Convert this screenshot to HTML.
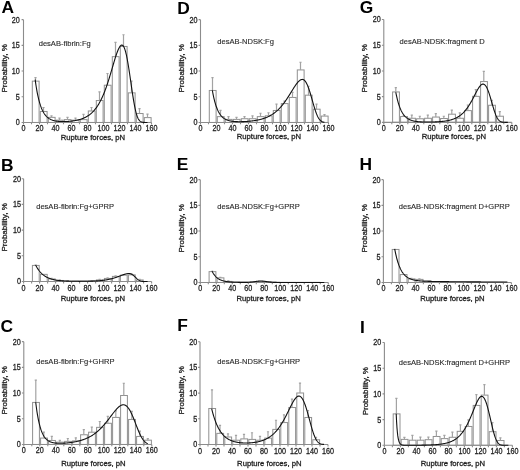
<!DOCTYPE html>
<html><head><meta charset="utf-8"><style>
html,body{margin:0;padding:0;background:#fff;}
svg{display:block;will-change:transform;}
text{font-family:"Liberation Sans",sans-serif;}
.bar{fill:#fff;stroke:#909090;stroke-width:1;}
.err{fill:none;stroke:#a3a3a3;stroke-width:1.2;}
.ax{fill:none;stroke:#8c8c8c;stroke-width:1.1;}
.cv{fill:none;stroke:#111;stroke-width:1.1;stroke-linejoin:round;}
.tl{font-size:9px;fill:#222;stroke:#222;stroke-width:0.3px;}
.tt{font-size:7.55px;fill:#2a2a2a;stroke:#2a2a2a;stroke-width:0.12px;}
.at{font-size:8px;fill:#222;stroke:#222;stroke-width:0.3px;}
.lt{font-size:17.4px;font-weight:bold;fill:#000;}
</style></head><body>
<svg width="520" height="470" viewBox="0 0 520 470">
<rect width="520" height="470" fill="#fff"/>
<rect x="32.3" y="81.14" width="6.8" height="41.31" class="bar"/>
<rect x="40.3" y="111.48" width="6.8" height="10.96" class="bar"/>
<rect x="48.3" y="117.35" width="6.8" height="5.1" class="bar"/>
<rect x="56.3" y="120.16" width="6.8" height="2.29" class="bar"/>
<rect x="64.3" y="119.64" width="6.8" height="2.81" class="bar"/>
<rect x="72.3" y="120.16" width="6.8" height="2.29" class="bar"/>
<rect x="80.3" y="119.64" width="6.8" height="2.81" class="bar"/>
<rect x="88.3" y="110.98" width="6.8" height="11.47" class="bar"/>
<rect x="96.3" y="100.52" width="6.8" height="21.93" class="bar"/>
<rect x="104.3" y="85.22" width="6.8" height="37.23" class="bar"/>
<rect x="112.3" y="56.66" width="6.8" height="65.79" class="bar"/>
<rect x="120.3" y="46.46" width="6.8" height="75.99" class="bar"/>
<rect x="128.3" y="92.87" width="6.8" height="29.58" class="bar"/>
<rect x="136.3" y="113.53" width="6.8" height="8.92" class="bar"/>
<rect x="144.3" y="117.61" width="6.8" height="4.84" class="bar"/>
<path d="M35.5 81.14V77.57M34.4 77.57h2.2" class="err"/>
<path d="M43.5 111.48V107.51M42.4 107.51h2.2" class="err"/>
<path d="M51.5 117.35V115.82M50.4 115.82h2.2" class="err"/>
<path d="M59.5 120.16V118.12M58.4 118.12h2.2" class="err"/>
<path d="M67.5 119.64V117.35M66.4 117.35h2.2" class="err"/>
<path d="M75.5 120.16V118.12M74.4 118.12h2.2" class="err"/>
<path d="M83.5 119.64V114.29M82.4 114.29h2.2" class="err"/>
<path d="M91.5 110.98V107.51M90.4 107.51h2.2" class="err"/>
<path d="M99.5 100.52V91.85M98.4 91.85h2.2" class="err"/>
<path d="M107.5 85.22V73.49M106.4 73.49h2.2" class="err"/>
<path d="M115.5 56.66V42.38M114.4 42.38h2.2" class="err"/>
<path d="M123.5 46.46V34.73M122.4 34.73h2.2" class="err"/>
<path d="M131.5 92.87V81.14M130.4 81.14h2.2" class="err"/>
<path d="M139.5 113.53V108.68M138.4 108.68h2.2" class="err"/>
<path d="M147.5 117.61V114.03M146.4 114.03h2.2" class="err"/>
<path d="M23.5 19.65V122.45H151.5" class="ax"/>
<path d="M21.6 122.45h1.9M21.6 96.75h1.9M21.6 71.05h1.9M21.6 45.35h1.9M21.6 19.65h1.9M23.5 122.45v1.9M31.5 122.45v1.9M39.5 122.45v1.9M47.5 122.45v1.9M55.5 122.45v1.9M63.5 122.45v1.9M71.5 122.45v1.9M79.5 122.45v1.9M87.5 122.45v1.9M95.5 122.45v1.9M103.5 122.45v1.9M111.5 122.45v1.9M119.5 122.45v1.9M127.5 122.45v1.9M135.5 122.45v1.9M143.5 122.45v1.9M151.5 122.45v1.9" class="ax"/>
<text transform="translate(19.8 125.35) scale(0.8 1)" class="tl" text-anchor="end">0</text>
<text transform="translate(19.8 99.65) scale(0.8 1)" class="tl" text-anchor="end">5</text>
<text transform="translate(19.8 73.95) scale(0.8 1)" class="tl" text-anchor="end">10</text>
<text transform="translate(19.8 48.25) scale(0.8 1)" class="tl" text-anchor="end">15</text>
<text transform="translate(19.8 22.55) scale(0.8 1)" class="tl" text-anchor="end">20</text>
<text transform="translate(23.5 131.45) scale(0.8 1)" class="tl" text-anchor="middle">0</text>
<text transform="translate(39.5 131.45) scale(0.8 1)" class="tl" text-anchor="middle">20</text>
<text transform="translate(55.5 131.45) scale(0.8 1)" class="tl" text-anchor="middle">40</text>
<text transform="translate(71.5 131.45) scale(0.8 1)" class="tl" text-anchor="middle">60</text>
<text transform="translate(87.5 131.45) scale(0.8 1)" class="tl" text-anchor="middle">80</text>
<text transform="translate(103.5 131.45) scale(0.8 1)" class="tl" text-anchor="middle">100</text>
<text transform="translate(119.5 131.45) scale(0.8 1)" class="tl" text-anchor="middle">120</text>
<text transform="translate(135.5 131.45) scale(0.8 1)" class="tl" text-anchor="middle">140</text>
<text transform="translate(151.5 131.45) scale(0.8 1)" class="tl" text-anchor="middle">160</text>
<path d="M35.18 79.68 L35.58 82.56 L35.98 85.25 L36.38 87.76 L36.78 90.1 L37.18 92.28 L37.58 94.32 L37.98 96.21 L38.38 97.98 L38.78 99.63 L39.18 101.16 L39.58 102.59 L39.98 103.93 L40.38 105.18 L40.78 106.34 L41.18 107.42 L41.58 108.43 L41.98 109.37 L42.38 110.24 L42.78 111.06 L43.18 111.82 L43.58 112.53 L43.98 113.19 L44.38 113.81 L44.78 114.38 L45.18 114.92 L45.58 115.42 L45.98 115.88 L46.38 116.32 L46.78 116.72 L47.18 117.09 L47.58 117.44 L47.98 117.77 L48.38 118.07 L48.78 118.35 L49.18 118.62 L49.58 118.86 L49.98 119.09 L50.38 119.3 L50.78 119.5 L51.18 119.68 L51.58 119.85 L51.98 120 L52.38 120.15 L52.78 120.28 L53.18 120.41 L53.58 120.52 L53.98 120.63 L54.38 120.73 L54.78 120.82 L55.18 120.91 L55.58 120.98 L55.98 121.05 L56.38 121.12 L56.78 121.18 L57.18 121.23 L57.58 121.28 L57.98 121.33 L58.38 121.37 L58.78 121.4 L59.18 121.43 L59.58 121.46 L59.98 121.49 L60.38 121.51 L60.78 121.53 L61.18 121.54 L61.58 121.55 L61.98 121.56 L62.38 121.57 L62.78 121.57 L63.18 121.57 L63.58 121.57 L63.98 121.57 L64.38 121.56 L64.78 121.55 L65.18 121.54 L65.58 121.53 L65.98 121.51 L66.38 121.5 L66.78 121.48 L67.18 121.46 L67.58 121.43 L67.98 121.41 L68.38 121.38 L68.78 121.35 L69.18 121.32 L69.58 121.28 L69.98 121.25 L70.38 121.21 L70.78 121.17 L71.18 121.12 L71.58 121.08 L71.98 121.03 L72.38 120.98 L72.78 120.93 L73.18 120.87 L73.58 120.81 L73.98 120.75 L74.38 120.68 L74.78 120.62 L75.18 120.55 L75.58 120.47 L75.98 120.4 L76.38 120.32 L76.78 120.23 L77.18 120.15 L77.58 120.06 L77.98 119.96 L78.38 119.86 L78.78 119.76 L79.18 119.65 L79.58 119.54 L79.98 119.42 L80.38 119.3 L80.78 119.18 L81.18 119.05 L81.58 118.91 L81.98 118.77 L82.38 118.62 L82.78 118.47 L83.18 118.31 L83.58 118.14 L83.98 117.97 L84.38 117.79 L84.78 117.6 L85.18 117.41 L85.58 117.21 L85.98 117 L86.38 116.78 L86.78 116.55 L87.18 116.32 L87.58 116.07 L87.98 115.82 L88.38 115.56 L88.78 115.28 L89.18 115 L89.58 114.7 L89.98 114.4 L90.38 114.08 L90.78 113.75 L91.18 113.41 L91.58 113.05 L91.98 112.68 L92.38 112.3 L92.78 111.9 L93.18 111.49 L93.58 111.07 L93.98 110.63 L94.38 110.17 L94.78 109.7 L95.18 109.21 L95.58 108.7 L95.98 108.18 L96.38 107.63 L96.78 107.07 L97.18 106.49 L97.58 105.89 L97.98 105.26 L98.38 104.62 L98.78 103.96 L99.18 103.27 L99.58 102.57 L99.98 101.84 L100.38 101.08 L100.78 100.31 L101.18 99.51 L101.58 98.68 L101.98 97.83 L102.38 96.96 L102.78 96.06 L103.18 95.14 L103.58 94.19 L103.98 93.21 L104.38 92.21 L104.78 91.19 L105.18 90.14 L105.58 89.06 L105.98 87.96 L106.38 86.83 L106.78 85.68 L107.18 84.51 L107.58 83.31 L107.98 82.09 L108.38 80.85 L108.78 79.59 L109.18 78.31 L109.58 77.01 L109.98 75.7 L110.38 74.37 L110.78 73.03 L111.18 71.68 L111.58 70.32 L111.98 68.95 L112.38 67.58 L112.78 66.22 L113.18 64.85 L113.58 63.49 L113.98 62.15 L114.38 60.81 L114.78 59.5 L115.18 58.21 L115.58 56.94 L115.98 55.71 L116.38 54.52 L116.78 53.37 L117.18 52.27 L117.58 51.22 L117.98 50.24 L118.38 49.32 L118.78 48.47 L119.18 47.71 L119.58 47.02 L119.98 46.44 L120.38 45.94 L120.78 45.56 L121.18 45.28 L121.58 45.12 L121.98 45.09 L122.38 45.19 L122.78 45.44 L123.18 45.85 L123.58 46.41 L123.98 47.14 L124.38 48.04 L124.78 49.1 L125.18 50.32 L125.58 51.72 L125.98 53.27 L126.38 54.99 L126.78 56.86 L127.18 58.88 L127.58 61.03 L127.98 63.32 L128.38 65.72 L128.78 68.22 L129.18 70.82 L129.58 73.49 L129.98 76.21 L130.38 78.98 L130.78 81.77 L131.18 84.56 L131.58 87.34 L131.98 90.08 L132.38 92.77 L132.78 95.39 L133.18 97.93 L133.58 100.37 L133.98 102.69 L134.38 104.89 L134.78 106.95 L135.18 108.87 L135.58 110.65 L135.98 112.27 L136.38 113.75 L136.78 115.07 L137.18 116.25 L137.58 117.3 L137.98 118.2 L138.38 118.99 L138.78 119.66 L139.18 120.23 L139.58 120.7 L139.98 121.09 L140.38 121.4 L140.78 121.66 L141.18 121.86 L141.58 122.01 L141.98 122.13 L142.38 122.22 L142.78 122.29 L143.18 122.34 L143.58 122.38 L143.98 122.4 L144.38 122.42 L144.78 122.43 L145.18 122.44 L145.58 122.44 L145.98 122.45 L146.38 122.45 L146.78 122.45 L147.18 122.45 L147.5 122.45" class="cv"/>
<text x="38.7" y="46.3" class="tt">desAB-fibrin:Fg</text>
<text transform="translate(60.8 140.2) scale(0.96 1)" class="at">Rupture forces, pN</text>
<text transform="translate(7.1 68.35) rotate(-90) scale(1.0 1)" text-anchor="middle" class="at">Probability, %</text>
<text x="1.6" y="12.6" class="lt">A</text>
<rect x="209.3" y="90.47" width="6.8" height="31.98" class="bar"/>
<rect x="217.3" y="116.64" width="6.8" height="5.81" class="bar"/>
<rect x="225.3" y="119.39" width="6.8" height="3.06" class="bar"/>
<rect x="233.3" y="119.39" width="6.8" height="3.06" class="bar"/>
<rect x="241.3" y="118.73" width="6.8" height="3.72" class="bar"/>
<rect x="249.3" y="118.73" width="6.8" height="3.72" class="bar"/>
<rect x="257.3" y="116.64" width="6.8" height="5.81" class="bar"/>
<rect x="265.3" y="115.82" width="6.8" height="6.63" class="bar"/>
<rect x="273.3" y="110.47" width="6.8" height="11.98" class="bar"/>
<rect x="281.3" y="103.58" width="6.8" height="18.87" class="bar"/>
<rect x="289.3" y="97.46" width="6.8" height="24.99" class="bar"/>
<rect x="297.3" y="69.92" width="6.8" height="52.53" class="bar"/>
<rect x="305.3" y="95.17" width="6.8" height="27.28" class="bar"/>
<rect x="313.3" y="109.19" width="6.8" height="13.26" class="bar"/>
<rect x="321.3" y="116.08" width="6.8" height="6.38" class="bar"/>
<path d="M212.5 90.47V77.57M211.4 77.57h2.2" class="err"/>
<path d="M220.5 116.64V110.47M219.4 110.47h2.2" class="err"/>
<path d="M228.5 119.39V116.64M227.4 116.64h2.2" class="err"/>
<path d="M236.5 119.39V117.35M235.4 117.35h2.2" class="err"/>
<path d="M244.5 118.73V116.64M243.4 116.64h2.2" class="err"/>
<path d="M252.5 118.73V115.82M251.4 115.82h2.2" class="err"/>
<path d="M260.5 116.64V113.27M259.4 113.27h2.2" class="err"/>
<path d="M268.5 115.82V112.76M267.4 112.76h2.2" class="err"/>
<path d="M276.5 110.47V104.09M275.4 104.09h2.2" class="err"/>
<path d="M284.5 103.58V101.03M283.4 101.03h2.2" class="err"/>
<path d="M292.5 97.46V92.36M291.4 92.36h2.2" class="err"/>
<path d="M300.5 69.92V62.27M299.4 62.27h2.2" class="err"/>
<path d="M308.5 95.17V86.24M307.4 86.24h2.2" class="err"/>
<path d="M316.5 109.19V104.09M315.4 104.09h2.2" class="err"/>
<path d="M324.5 116.08V114.55M323.4 114.55h2.2" class="err"/>
<path d="M200.5 19.65V122.45H328.5" class="ax"/>
<path d="M198.6 122.45h1.9M198.6 96.75h1.9M198.6 71.05h1.9M198.6 45.35h1.9M198.6 19.65h1.9M200.5 122.45v1.9M208.5 122.45v1.9M216.5 122.45v1.9M224.5 122.45v1.9M232.5 122.45v1.9M240.5 122.45v1.9M248.5 122.45v1.9M256.5 122.45v1.9M264.5 122.45v1.9M272.5 122.45v1.9M280.5 122.45v1.9M288.5 122.45v1.9M296.5 122.45v1.9M304.5 122.45v1.9M312.5 122.45v1.9M320.5 122.45v1.9M328.5 122.45v1.9" class="ax"/>
<text transform="translate(197.6 125.35) scale(0.8 1)" class="tl" text-anchor="end">0</text>
<text transform="translate(197.6 99.65) scale(0.8 1)" class="tl" text-anchor="end">5</text>
<text transform="translate(197.6 73.95) scale(0.8 1)" class="tl" text-anchor="end">10</text>
<text transform="translate(197.6 48.25) scale(0.8 1)" class="tl" text-anchor="end">15</text>
<text transform="translate(197.6 22.55) scale(0.8 1)" class="tl" text-anchor="end">20</text>
<text transform="translate(200.5 131.45) scale(0.8 1)" class="tl" text-anchor="middle">0</text>
<text transform="translate(216.5 131.45) scale(0.8 1)" class="tl" text-anchor="middle">20</text>
<text transform="translate(232.5 131.45) scale(0.8 1)" class="tl" text-anchor="middle">40</text>
<text transform="translate(248.5 131.45) scale(0.8 1)" class="tl" text-anchor="middle">60</text>
<text transform="translate(264.5 131.45) scale(0.8 1)" class="tl" text-anchor="middle">80</text>
<text transform="translate(280.5 131.45) scale(0.8 1)" class="tl" text-anchor="middle">100</text>
<text transform="translate(296.5 131.45) scale(0.8 1)" class="tl" text-anchor="middle">120</text>
<text transform="translate(312.5 131.45) scale(0.8 1)" class="tl" text-anchor="middle">140</text>
<text transform="translate(328.5 131.45) scale(0.8 1)" class="tl" text-anchor="middle">160</text>
<path d="M212.34 90.27 L212.74 92.5 L213.14 94.57 L213.54 96.5 L213.94 98.3 L214.34 99.97 L214.74 101.52 L215.14 102.97 L215.54 104.32 L215.94 105.57 L216.34 106.73 L216.74 107.82 L217.14 108.82 L217.54 109.76 L217.94 110.63 L218.34 111.45 L218.74 112.2 L219.14 112.9 L219.54 113.56 L219.94 114.17 L220.34 114.73 L220.74 115.26 L221.14 115.74 L221.54 116.2 L221.94 116.62 L222.34 117.01 L222.74 117.38 L223.14 117.72 L223.54 118.03 L223.94 118.33 L224.34 118.6 L224.74 118.85 L225.14 119.09 L225.54 119.3 L225.94 119.51 L226.34 119.69 L226.74 119.87 L227.14 120.03 L227.54 120.18 L227.94 120.32 L228.34 120.45 L228.74 120.57 L229.14 120.67 L229.54 120.78 L229.94 120.87 L230.34 120.96 L230.74 121.04 L231.14 121.11 L231.54 121.18 L231.94 121.24 L232.34 121.29 L232.74 121.34 L233.14 121.39 L233.54 121.43 L233.94 121.47 L234.34 121.51 L234.74 121.54 L235.14 121.57 L235.54 121.59 L235.94 121.61 L236.34 121.63 L236.74 121.65 L237.14 121.66 L237.54 121.67 L237.94 121.68 L238.34 121.69 L238.74 121.69 L239.14 121.7 L239.54 121.7 L239.94 121.69 L240.34 121.69 L240.74 121.69 L241.14 121.68 L241.54 121.67 L241.94 121.66 L242.34 121.65 L242.74 121.64 L243.14 121.62 L243.54 121.61 L243.94 121.59 L244.34 121.57 L244.74 121.55 L245.14 121.53 L245.54 121.51 L245.94 121.49 L246.34 121.46 L246.74 121.43 L247.14 121.4 L247.54 121.37 L247.94 121.34 L248.34 121.31 L248.74 121.28 L249.14 121.24 L249.54 121.2 L249.94 121.16 L250.34 121.12 L250.74 121.08 L251.14 121.03 L251.54 120.99 L251.94 120.94 L252.34 120.89 L252.74 120.84 L253.14 120.79 L253.54 120.73 L253.94 120.67 L254.34 120.61 L254.74 120.55 L255.14 120.49 L255.54 120.42 L255.94 120.35 L256.34 120.28 L256.74 120.21 L257.14 120.13 L257.54 120.06 L257.94 119.97 L258.34 119.89 L258.74 119.8 L259.14 119.71 L259.54 119.62 L259.94 119.52 L260.34 119.43 L260.74 119.32 L261.14 119.22 L261.54 119.11 L261.94 118.99 L262.34 118.88 L262.74 118.76 L263.14 118.63 L263.54 118.5 L263.94 118.37 L264.34 118.23 L264.74 118.09 L265.14 117.94 L265.54 117.79 L265.94 117.63 L266.34 117.47 L266.74 117.31 L267.14 117.13 L267.54 116.96 L267.94 116.77 L268.34 116.59 L268.74 116.39 L269.14 116.19 L269.54 115.98 L269.94 115.77 L270.34 115.55 L270.74 115.32 L271.14 115.09 L271.54 114.85 L271.94 114.6 L272.34 114.35 L272.74 114.09 L273.14 113.82 L273.54 113.54 L273.94 113.25 L274.34 112.96 L274.74 112.65 L275.14 112.34 L275.54 112.02 L275.94 111.69 L276.34 111.36 L276.74 111.01 L277.14 110.65 L277.54 110.29 L277.94 109.91 L278.34 109.53 L278.74 109.13 L279.14 108.73 L279.54 108.31 L279.94 107.89 L280.34 107.45 L280.74 107 L281.14 106.55 L281.54 106.08 L281.94 105.61 L282.34 105.12 L282.74 104.62 L283.14 104.11 L283.54 103.59 L283.94 103.07 L284.34 102.53 L284.74 101.98 L285.14 101.42 L285.54 100.86 L285.94 100.28 L286.34 99.7 L286.74 99.1 L287.14 98.5 L287.54 97.89 L287.94 97.28 L288.34 96.65 L288.74 96.02 L289.14 95.39 L289.54 94.75 L289.94 94.11 L290.34 93.46 L290.74 92.81 L291.14 92.16 L291.54 91.51 L291.94 90.86 L292.34 90.21 L292.74 89.57 L293.14 88.93 L293.54 88.29 L293.94 87.67 L294.34 87.05 L294.74 86.44 L295.14 85.84 L295.54 85.26 L295.94 84.69 L296.34 84.14 L296.74 83.61 L297.14 83.11 L297.54 82.62 L297.94 82.16 L298.34 81.73 L298.74 81.33 L299.14 80.96 L299.54 80.62 L299.94 80.32 L300.34 80.06 L300.74 79.84 L301.14 79.66 L301.54 79.53 L301.94 79.44 L302.34 79.41 L302.74 79.43 L303.14 79.51 L303.54 79.67 L303.94 79.9 L304.34 80.21 L304.74 80.59 L305.14 81.05 L305.54 81.58 L305.94 82.19 L306.34 82.88 L306.74 83.65 L307.14 84.49 L307.54 85.4 L307.94 86.38 L308.34 87.43 L308.74 88.55 L309.14 89.72 L309.54 90.95 L309.94 92.22 L310.34 93.53 L310.74 94.88 L311.14 96.26 L311.54 97.66 L311.94 99.08 L312.34 100.5 L312.74 101.92 L313.14 103.32 L313.54 104.71 L313.94 106.08 L314.34 107.41 L314.74 108.7 L315.14 109.94 L315.54 111.14 L315.94 112.27 L316.34 113.35 L316.74 114.36 L317.14 115.3 L317.54 116.18 L317.94 116.98 L318.34 117.72 L318.74 118.39 L319.14 118.98 L319.54 119.52 L319.94 119.99 L320.34 120.41 L320.74 120.76 L321.14 121.07 L321.54 121.34 L321.94 121.56 L322.34 121.74 L322.74 121.9 L323.14 122.02 L323.54 122.12 L323.94 122.2 L324.34 122.26 L324.5 122.29" class="cv"/>
<text x="217.3" y="44.4" class="tt">desAB-NDSK:Fg</text>
<text transform="translate(236.7 139) scale(0.96 1)" class="at">Rupture forces, pN</text>
<text transform="translate(184.1 68.35) rotate(-90) scale(1.0 1)" text-anchor="middle" class="at">Probability, %</text>
<text x="177.3" y="13.6" class="lt">D</text>
<rect x="392.6" y="91.95" width="6.8" height="30.4" class="bar"/>
<rect x="400.6" y="116.54" width="6.8" height="5.81" class="bar"/>
<rect x="408.6" y="118.27" width="6.8" height="4.08" class="bar"/>
<rect x="416.6" y="118.78" width="6.8" height="3.57" class="bar"/>
<rect x="424.6" y="118.27" width="6.8" height="4.08" class="bar"/>
<rect x="432.6" y="117.05" width="6.8" height="5.3" class="bar"/>
<rect x="440.6" y="118.52" width="6.8" height="3.82" class="bar"/>
<rect x="448.6" y="114.19" width="6.8" height="8.16" class="bar"/>
<rect x="456.6" y="118.27" width="6.8" height="4.08" class="bar"/>
<rect x="464.6" y="110.62" width="6.8" height="11.73" class="bar"/>
<rect x="472.6" y="96.34" width="6.8" height="26.01" class="bar"/>
<rect x="480.6" y="81.55" width="6.8" height="40.8" class="bar"/>
<rect x="488.6" y="105.26" width="6.8" height="17.09" class="bar"/>
<rect x="496.6" y="116.23" width="6.8" height="6.12" class="bar"/>
<path d="M395.8 91.95V87.67M394.7 87.67h2.2" class="err"/>
<path d="M403.8 116.54V115.72M402.7 115.72h2.2" class="err"/>
<path d="M411.8 118.27V115.21M410.7 115.21h2.2" class="err"/>
<path d="M419.8 118.78V116.23M418.7 116.23h2.2" class="err"/>
<path d="M427.8 118.27V115.21M426.7 115.21h2.2" class="err"/>
<path d="M435.8 117.05V113.68M434.7 113.68h2.2" class="err"/>
<path d="M443.8 118.52V116.23M442.7 116.23h2.2" class="err"/>
<path d="M451.8 114.19V110.11M450.7 110.11h2.2" class="err"/>
<path d="M459.8 118.27V112.91M458.7 112.91h2.2" class="err"/>
<path d="M467.8 110.62V105.01M466.7 105.01h2.2" class="err"/>
<path d="M475.8 96.34V89.71M474.7 89.71h2.2" class="err"/>
<path d="M483.8 81.55V71.35M482.7 71.35h2.2" class="err"/>
<path d="M491.8 105.26V100.42M490.7 100.42h2.2" class="err"/>
<path d="M499.8 116.23V111.64M498.7 111.64h2.2" class="err"/>
<path d="M383.8 19.55V122.35H511.8" class="ax"/>
<path d="M381.9 122.35h1.9M381.9 96.65h1.9M381.9 70.95h1.9M381.9 45.25h1.9M381.9 19.55h1.9M383.8 122.35v1.9M391.8 122.35v1.9M399.8 122.35v1.9M407.8 122.35v1.9M415.8 122.35v1.9M423.8 122.35v1.9M431.8 122.35v1.9M439.8 122.35v1.9M447.8 122.35v1.9M455.8 122.35v1.9M463.8 122.35v1.9M471.8 122.35v1.9M479.8 122.35v1.9M487.8 122.35v1.9M495.8 122.35v1.9M503.8 122.35v1.9M511.8 122.35v1.9" class="ax"/>
<text transform="translate(380.7 125.25) scale(0.8 1)" class="tl" text-anchor="end">0</text>
<text transform="translate(380.7 99.55) scale(0.8 1)" class="tl" text-anchor="end">5</text>
<text transform="translate(380.7 73.85) scale(0.8 1)" class="tl" text-anchor="end">10</text>
<text transform="translate(380.7 48.15) scale(0.8 1)" class="tl" text-anchor="end">15</text>
<text transform="translate(380.7 22.45) scale(0.8 1)" class="tl" text-anchor="end">20</text>
<text transform="translate(383.8 131.35) scale(0.8 1)" class="tl" text-anchor="middle">0</text>
<text transform="translate(399.8 131.35) scale(0.8 1)" class="tl" text-anchor="middle">20</text>
<text transform="translate(415.8 131.35) scale(0.8 1)" class="tl" text-anchor="middle">40</text>
<text transform="translate(431.8 131.35) scale(0.8 1)" class="tl" text-anchor="middle">60</text>
<text transform="translate(447.8 131.35) scale(0.8 1)" class="tl" text-anchor="middle">80</text>
<text transform="translate(463.8 131.35) scale(0.8 1)" class="tl" text-anchor="middle">100</text>
<text transform="translate(479.8 131.35) scale(0.8 1)" class="tl" text-anchor="middle">120</text>
<text transform="translate(495.8 131.35) scale(0.8 1)" class="tl" text-anchor="middle">140</text>
<text transform="translate(511.8 131.35) scale(0.8 1)" class="tl" text-anchor="middle">160</text>
<path d="M395.8 92.26 L396.2 94.28 L396.6 96.17 L397 97.93 L397.4 99.57 L397.8 101.1 L398.2 102.53 L398.6 103.86 L399 105.11 L399.4 106.27 L399.8 107.35 L400.2 108.36 L400.6 109.3 L401 110.17 L401.4 110.99 L401.8 111.75 L402.2 112.47 L402.6 113.13 L403 113.75 L403.4 114.33 L403.8 114.87 L404.2 115.37 L404.6 115.84 L405 116.27 L405.4 116.68 L405.8 117.06 L406.2 117.41 L406.6 117.74 L407 118.05 L407.4 118.34 L407.8 118.61 L408.2 118.86 L408.6 119.09 L409 119.31 L409.4 119.51 L409.8 119.7 L410.2 119.87 L410.6 120.04 L411 120.19 L411.4 120.33 L411.8 120.47 L412.2 120.59 L412.6 120.7 L413 120.81 L413.4 120.91 L413.8 121 L414.2 121.09 L414.6 121.17 L415 121.25 L415.4 121.32 L415.8 121.38 L416.2 121.44 L416.6 121.5 L417 121.55 L417.4 121.6 L417.8 121.64 L418.2 121.68 L418.6 121.72 L419 121.76 L419.4 121.79 L419.8 121.82 L420.2 121.85 L420.6 121.87 L421 121.9 L421.4 121.92 L421.8 121.94 L422.2 121.96 L422.6 121.97 L423 121.99 L423.4 122 L423.8 122.01 L424.2 122.02 L424.6 122.03 L425 122.04 L425.4 122.04 L425.8 122.05 L426.2 122.05 L426.6 122.06 L427 122.06 L427.4 122.06 L427.8 122.06 L428.2 122.06 L428.6 122.06 L429 122.06 L429.4 122.05 L429.8 122.05 L430.2 122.04 L430.6 122.04 L431 122.03 L431.4 122.02 L431.8 122.02 L432.2 122.01 L432.6 122 L433 121.99 L433.4 121.97 L433.8 121.96 L434.2 121.95 L434.6 121.93 L435 121.92 L435.4 121.9 L435.8 121.88 L436.2 121.86 L436.6 121.84 L437 121.82 L437.4 121.8 L437.8 121.78 L438.2 121.75 L438.6 121.73 L439 121.7 L439.4 121.67 L439.8 121.64 L440.2 121.61 L440.6 121.58 L441 121.54 L441.4 121.5 L441.8 121.46 L442.2 121.42 L442.6 121.38 L443 121.34 L443.4 121.29 L443.8 121.24 L444.2 121.19 L444.6 121.14 L445 121.08 L445.4 121.02 L445.8 120.96 L446.2 120.9 L446.6 120.83 L447 120.76 L447.4 120.68 L447.8 120.61 L448.2 120.53 L448.6 120.44 L449 120.35 L449.4 120.26 L449.8 120.16 L450.2 120.06 L450.6 119.96 L451 119.85 L451.4 119.73 L451.8 119.61 L452.2 119.49 L452.6 119.35 L453 119.22 L453.4 119.07 L453.8 118.92 L454.2 118.77 L454.6 118.6 L455 118.43 L455.4 118.25 L455.8 118.07 L456.2 117.87 L456.6 117.67 L457 117.46 L457.4 117.24 L457.8 117.01 L458.2 116.77 L458.6 116.52 L459 116.27 L459.4 116 L459.8 115.71 L460.2 115.42 L460.6 115.12 L461 114.8 L461.4 114.47 L461.8 114.13 L462.2 113.78 L462.6 113.41 L463 113.03 L463.4 112.63 L463.8 112.22 L464.2 111.79 L464.6 111.35 L465 110.9 L465.4 110.42 L465.8 109.93 L466.2 109.43 L466.6 108.91 L467 108.37 L467.4 107.82 L467.8 107.25 L468.2 106.66 L468.6 106.05 L469 105.43 L469.4 104.8 L469.8 104.14 L470.2 103.48 L470.6 102.79 L471 102.1 L471.4 101.39 L471.8 100.66 L472.2 99.93 L472.6 99.18 L473 98.42 L473.4 97.66 L473.8 96.89 L474.2 96.12 L474.6 95.34 L475 94.56 L475.4 93.79 L475.8 93.02 L476.2 92.25 L476.6 91.5 L477 90.76 L477.4 90.04 L477.8 89.34 L478.2 88.66 L478.6 88.01 L479 87.4 L479.4 86.82 L479.8 86.28 L480.2 85.79 L480.6 85.35 L481 84.97 L481.4 84.65 L481.8 84.39 L482.2 84.2 L482.6 84.08 L483 84.05 L483.4 84.09 L483.8 84.21 L484.2 84.4 L484.6 84.68 L485 85.04 L485.4 85.48 L485.8 86.01 L486.2 86.62 L486.6 87.32 L487 88.1 L487.4 88.96 L487.8 89.9 L488.2 90.91 L488.6 91.99 L489 93.14 L489.4 94.35 L489.8 95.61 L490.2 96.91 L490.6 98.26 L491 99.63 L491.4 101.02 L491.8 102.41 L492.2 103.81 L492.6 105.21 L493 106.58 L493.4 107.92 L493.8 109.23 L494.2 110.49 L494.6 111.7 L495 112.85 L495.4 113.93 L495.8 114.95 L496.2 115.89 L496.6 116.76 L497 117.55 L497.4 118.27 L497.8 118.91 L498.2 119.47 L498.6 119.97 L499 120.4 L499.4 120.77 L499.8 121.09 L500.2 121.35 L500.6 121.57 L501 121.75 L501.4 121.89 L501.8 122.01 L502.2 122.1 L502.6 122.17 L503 122.22 L503.4 122.26 L503.8 122.29 L504.2 122.31 L504.6 122.32 L505 122.33 L505.4 122.34 L505.8 122.34 L506.2 122.35 L506.6 122.35 L507 122.35 L507.4 122.35 L507.8 122.35" class="cv"/>
<text x="399.6" y="43.8" class="tt">desAB-NDSK:fragment D</text>
<text transform="translate(421.7 139.2) scale(0.96 1)" class="at">Rupture forces, pN</text>
<text transform="translate(367.4 68.25) rotate(-90) scale(1.0 1)" text-anchor="middle" class="at">Probability, %</text>
<text x="359.8" y="13.1" class="lt">G</text>
<rect x="32.4" y="265.44" width="6.8" height="16.06" class="bar"/>
<rect x="40.4" y="274.36" width="6.8" height="7.14" class="bar"/>
<rect x="48.4" y="278.95" width="6.8" height="2.55" class="bar"/>
<rect x="56.4" y="280.48" width="6.8" height="1.02" class="bar"/>
<rect x="64.4" y="280.99" width="6.8" height="0.51" class="bar"/>
<rect x="72.4" y="280.99" width="6.8" height="0.51" class="bar"/>
<rect x="80.4" y="280.99" width="6.8" height="0.51" class="bar"/>
<rect x="88.4" y="280.74" width="6.8" height="0.76" class="bar"/>
<rect x="96.4" y="279.97" width="6.8" height="1.53" class="bar"/>
<rect x="104.4" y="278.44" width="6.8" height="3.06" class="bar"/>
<rect x="112.4" y="276.4" width="6.8" height="5.1" class="bar"/>
<rect x="120.4" y="275.12" width="6.8" height="6.38" class="bar"/>
<rect x="128.4" y="274.87" width="6.8" height="6.63" class="bar"/>
<rect x="136.4" y="279.97" width="6.8" height="1.53" class="bar"/>
<path d="M35.6 265.44V265.18M34.5 265.18h2.2" class="err"/>
<path d="M51.6 278.95V278.44M50.5 278.44h2.2" class="err"/>
<path d="M59.6 280.48V279.97M58.5 279.97h2.2" class="err"/>
<path d="M67.6 280.99V280.48M66.5 280.48h2.2" class="err"/>
<path d="M99.6 279.97V279.46M98.5 279.46h2.2" class="err"/>
<path d="M107.6 278.44V277.93M106.5 277.93h2.2" class="err"/>
<path d="M115.6 276.4V275.89M114.5 275.89h2.2" class="err"/>
<path d="M123.6 275.12V274.62M122.5 274.62h2.2" class="err"/>
<path d="M131.6 274.87V273.85M130.5 273.85h2.2" class="err"/>
<path d="M139.6 279.97V279.46M138.5 279.46h2.2" class="err"/>
<path d="M23.6 178.7V281.5H151.6" class="ax"/>
<path d="M21.7 281.5h1.9M21.7 255.8h1.9M21.7 230.1h1.9M21.7 204.4h1.9M21.7 178.7h1.9M23.6 281.5v1.9M31.6 281.5v1.9M39.6 281.5v1.9M47.6 281.5v1.9M55.6 281.5v1.9M63.6 281.5v1.9M71.6 281.5v1.9M79.6 281.5v1.9M87.6 281.5v1.9M95.6 281.5v1.9M103.6 281.5v1.9M111.6 281.5v1.9M119.6 281.5v1.9M127.6 281.5v1.9M135.6 281.5v1.9M143.6 281.5v1.9M151.6 281.5v1.9" class="ax"/>
<text transform="translate(20.95 284.4) scale(0.8 1)" class="tl" text-anchor="end">0</text>
<text transform="translate(20.95 258.7) scale(0.8 1)" class="tl" text-anchor="end">5</text>
<text transform="translate(20.95 233) scale(0.8 1)" class="tl" text-anchor="end">10</text>
<text transform="translate(20.95 207.3) scale(0.8 1)" class="tl" text-anchor="end">15</text>
<text transform="translate(20.95 181.6) scale(0.8 1)" class="tl" text-anchor="end">20</text>
<text transform="translate(23.6 290.5) scale(0.8 1)" class="tl" text-anchor="middle">0</text>
<text transform="translate(39.6 290.5) scale(0.8 1)" class="tl" text-anchor="middle">20</text>
<text transform="translate(55.6 290.5) scale(0.8 1)" class="tl" text-anchor="middle">40</text>
<text transform="translate(71.6 290.5) scale(0.8 1)" class="tl" text-anchor="middle">60</text>
<text transform="translate(87.6 290.5) scale(0.8 1)" class="tl" text-anchor="middle">80</text>
<text transform="translate(103.6 290.5) scale(0.8 1)" class="tl" text-anchor="middle">100</text>
<text transform="translate(119.6 290.5) scale(0.8 1)" class="tl" text-anchor="middle">120</text>
<text transform="translate(135.6 290.5) scale(0.8 1)" class="tl" text-anchor="middle">140</text>
<text transform="translate(151.6 290.5) scale(0.8 1)" class="tl" text-anchor="middle">160</text>
<path d="M35.6 264.92 L36 265.71 L36.4 266.45 L36.8 267.16 L37.2 267.84 L37.6 268.48 L38 269.09 L38.4 269.68 L38.8 270.24 L39.2 270.77 L39.6 271.27 L40 271.76 L40.4 272.22 L40.8 272.65 L41.2 273.07 L41.6 273.47 L42 273.85 L42.4 274.21 L42.8 274.55 L43.2 274.88 L43.6 275.19 L44 275.49 L44.4 275.77 L44.8 276.04 L45.2 276.3 L45.6 276.54 L46 276.78 L46.4 277 L46.8 277.21 L47.2 277.41 L47.6 277.61 L48 277.79 L48.4 277.96 L48.8 278.13 L49.2 278.29 L49.6 278.44 L50 278.58 L50.4 278.72 L50.8 278.85 L51.2 278.98 L51.6 279.1 L52 279.21 L52.4 279.32 L52.8 279.42 L53.2 279.52 L53.6 279.61 L54 279.7 L54.4 279.78 L54.8 279.86 L55.2 279.94 L55.6 280.01 L56 280.08 L56.4 280.15 L56.8 280.21 L57.2 280.27 L57.6 280.33 L58 280.38 L58.4 280.44 L58.8 280.48 L59.2 280.53 L59.6 280.58 L60 280.62 L60.4 280.66 L60.8 280.7 L61.2 280.73 L61.6 280.77 L62 280.8 L62.4 280.83 L62.8 280.86 L63.2 280.89 L63.6 280.92 L64 280.95 L64.4 280.97 L64.8 280.99 L65.2 281.02 L65.6 281.04 L66 281.06 L66.4 281.08 L66.8 281.09 L67.2 281.11 L67.6 281.13 L68 281.14 L68.4 281.16 L68.8 281.17 L69.2 281.18 L69.6 281.2 L70 281.21 L70.4 281.22 L70.8 281.23 L71.2 281.24 L71.6 281.25 L72 281.26 L72.4 281.26 L72.8 281.27 L73.2 281.28 L73.6 281.28 L74 281.29 L74.4 281.29 L74.8 281.3 L75.2 281.3 L75.6 281.31 L76 281.31 L76.4 281.31 L76.8 281.32 L77.2 281.32 L77.6 281.32 L78 281.32 L78.4 281.32 L78.8 281.33 L79.2 281.33 L79.6 281.33 L80 281.33 L80.4 281.32 L80.8 281.32 L81.2 281.32 L81.6 281.32 L82 281.32 L82.4 281.32 L82.8 281.31 L83.2 281.31 L83.6 281.31 L84 281.3 L84.4 281.3 L84.8 281.29 L85.2 281.29 L85.6 281.28 L86 281.28 L86.4 281.27 L86.8 281.26 L87.2 281.25 L87.6 281.25 L88 281.24 L88.4 281.23 L88.8 281.22 L89.2 281.21 L89.6 281.2 L90 281.19 L90.4 281.18 L90.8 281.16 L91.2 281.15 L91.6 281.14 L92 281.12 L92.4 281.11 L92.8 281.09 L93.2 281.07 L93.6 281.06 L94 281.04 L94.4 281.02 L94.8 281 L95.2 280.98 L95.6 280.96 L96 280.93 L96.4 280.91 L96.8 280.89 L97.2 280.86 L97.6 280.83 L98 280.8 L98.4 280.77 L98.8 280.74 L99.2 280.71 L99.6 280.68 L100 280.64 L100.4 280.61 L100.8 280.57 L101.2 280.53 L101.6 280.49 L102 280.45 L102.4 280.4 L102.8 280.35 L103.2 280.31 L103.6 280.26 L104 280.2 L104.4 280.15 L104.8 280.09 L105.2 280.04 L105.6 279.97 L106 279.91 L106.4 279.85 L106.8 279.78 L107.2 279.71 L107.6 279.63 L108 279.56 L108.4 279.48 L108.8 279.4 L109.2 279.32 L109.6 279.23 L110 279.14 L110.4 279.05 L110.8 278.95 L111.2 278.85 L111.6 278.75 L112 278.65 L112.4 278.54 L112.8 278.43 L113.2 278.31 L113.6 278.2 L114 278.07 L114.4 277.95 L114.8 277.82 L115.2 277.7 L115.6 277.56 L116 277.43 L116.4 277.29 L116.8 277.15 L117.2 277.01 L117.6 276.86 L118 276.71 L118.4 276.56 L118.8 276.41 L119.2 276.26 L119.6 276.11 L120 275.96 L120.4 275.8 L120.8 275.65 L121.2 275.5 L121.6 275.34 L122 275.19 L122.4 275.04 L122.8 274.9 L123.2 274.76 L123.6 274.62 L124 274.49 L124.4 274.36 L124.8 274.24 L125.2 274.12 L125.6 274.02 L126 273.92 L126.4 273.83 L126.8 273.75 L127.2 273.68 L127.6 273.63 L128 273.59 L128.4 273.56 L128.8 273.55 L129.2 273.55 L129.6 273.58 L130 273.64 L130.4 273.73 L130.8 273.85 L131.2 274 L131.6 274.19 L132 274.4 L132.4 274.65 L132.8 274.92 L133.2 275.22 L133.6 275.55 L134 275.89 L134.4 276.26 L134.8 276.63 L135.2 277.02 L135.6 277.41 L136 277.8 L136.4 278.18 L136.8 278.56 L137.2 278.92 L137.6 279.26 L138 279.58 L138.4 279.87 L138.8 280.14 L139.2 280.38 L139.6 280.59 L140 280.78 L140.4 280.93 L140.8 281.06 L141.2 281.17 L141.6 281.26 L142 281.32 L142.4 281.37 L142.8 281.41 L143.2 281.44 L143.6 281.46 L144 281.48 L144.4 281.48 L144.8 281.49 L145.2 281.49 L145.6 281.5 L146 281.5 L146.4 281.5 L146.8 281.5 L147.2 281.5 L147.6 281.5" class="cv"/>
<text x="36.2" y="208.5" class="tt">desAB-fibrin:Fg+GPRP</text>
<text transform="translate(60.8 300.6) scale(0.96 1)" class="at">Rupture forces, pN</text>
<text transform="translate(7.2 227.4) rotate(-90) scale(1.0 1)" text-anchor="middle" class="at">Probability, %</text>
<text x="0.9" y="170.8" class="lt">B</text>
<rect x="209.1" y="271.64" width="6.8" height="10.81" class="bar"/>
<rect x="217.1" y="277.86" width="6.8" height="4.59" class="bar"/>
<rect x="225.1" y="281.43" width="6.8" height="1.02" class="bar"/>
<rect x="233.1" y="281.94" width="6.8" height="0.51" class="bar"/>
<rect x="241.1" y="282.19" width="6.8" height="0.26" class="bar"/>
<rect x="249.1" y="281.94" width="6.8" height="0.51" class="bar"/>
<rect x="257.1" y="281.43" width="6.8" height="1.02" class="bar"/>
<rect x="265.1" y="281.69" width="6.8" height="0.76" class="bar"/>
<rect x="273.1" y="282.19" width="6.8" height="0.26" class="bar"/>
<rect x="281.1" y="282.35" width="6.8" height="0.1" class="bar"/>
<rect x="289.1" y="282.35" width="6.8" height="0.1" class="bar"/>
<rect x="297.1" y="282.35" width="6.8" height="0.1" class="bar"/>
<rect x="305.1" y="282.35" width="6.8" height="0.1" class="bar"/>
<rect x="313.1" y="282.35" width="6.8" height="0.1" class="bar"/>
<path d="M212.3 271.64V271.23M211.2 271.23h2.2" class="err"/>
<path d="M220.3 277.86V277.35M219.2 277.35h2.2" class="err"/>
<path d="M228.3 281.43V280.92M227.2 280.92h2.2" class="err"/>
<path d="M200.3 179.65V282.45H328.3" class="ax"/>
<path d="M198.4 282.45h1.9M198.4 256.75h1.9M198.4 231.05h1.9M198.4 205.35h1.9M198.4 179.65h1.9M200.3 282.45v1.9M208.3 282.45v1.9M216.3 282.45v1.9M224.3 282.45v1.9M232.3 282.45v1.9M240.3 282.45v1.9M248.3 282.45v1.9M256.3 282.45v1.9M264.3 282.45v1.9M272.3 282.45v1.9M280.3 282.45v1.9M288.3 282.45v1.9M296.3 282.45v1.9M304.3 282.45v1.9M312.3 282.45v1.9M320.3 282.45v1.9M328.3 282.45v1.9" class="ax"/>
<text transform="translate(197.5 285.35) scale(0.8 1)" class="tl" text-anchor="end">0</text>
<text transform="translate(197.5 259.65) scale(0.8 1)" class="tl" text-anchor="end">5</text>
<text transform="translate(197.5 233.95) scale(0.8 1)" class="tl" text-anchor="end">10</text>
<text transform="translate(197.5 208.25) scale(0.8 1)" class="tl" text-anchor="end">15</text>
<text transform="translate(197.5 182.55) scale(0.8 1)" class="tl" text-anchor="end">20</text>
<text transform="translate(200.3 291.45) scale(0.8 1)" class="tl" text-anchor="middle">0</text>
<text transform="translate(216.3 291.45) scale(0.8 1)" class="tl" text-anchor="middle">20</text>
<text transform="translate(232.3 291.45) scale(0.8 1)" class="tl" text-anchor="middle">40</text>
<text transform="translate(248.3 291.45) scale(0.8 1)" class="tl" text-anchor="middle">60</text>
<text transform="translate(264.3 291.45) scale(0.8 1)" class="tl" text-anchor="middle">80</text>
<text transform="translate(280.3 291.45) scale(0.8 1)" class="tl" text-anchor="middle">100</text>
<text transform="translate(296.3 291.45) scale(0.8 1)" class="tl" text-anchor="middle">120</text>
<text transform="translate(312.3 291.45) scale(0.8 1)" class="tl" text-anchor="middle">140</text>
<text transform="translate(328.3 291.45) scale(0.8 1)" class="tl" text-anchor="middle">160</text>
<path d="M211.98 271.08 L212.38 271.84 L212.78 272.56 L213.18 273.22 L213.58 273.84 L213.98 274.42 L214.38 274.96 L214.78 275.46 L215.18 275.93 L215.58 276.37 L215.98 276.78 L216.38 277.16 L216.78 277.52 L217.18 277.85 L217.58 278.16 L217.98 278.45 L218.38 278.72 L218.78 278.97 L219.18 279.2 L219.58 279.42 L219.98 279.63 L220.38 279.82 L220.78 279.99 L221.18 280.16 L221.58 280.31 L221.98 280.46 L222.38 280.59 L222.78 280.71 L223.18 280.83 L223.58 280.94 L223.98 281.04 L224.38 281.14 L224.78 281.23 L225.18 281.31 L225.58 281.38 L225.98 281.46 L226.38 281.52 L226.78 281.59 L227.18 281.64 L227.58 281.7 L227.98 281.75 L228.38 281.8 L228.78 281.84 L229.18 281.88 L229.58 281.92 L229.98 281.95 L230.38 281.99 L230.78 282.02 L231.18 282.05 L231.58 282.08 L231.98 282.1 L232.38 282.12 L232.78 282.15 L233.18 282.17 L233.58 282.19 L233.98 282.2 L234.38 282.22 L234.78 282.24 L235.18 282.25 L235.58 282.26 L235.98 282.28 L236.38 282.29 L236.78 282.3 L237.18 282.31 L237.58 282.32 L237.98 282.33 L238.38 282.33 L238.78 282.34 L239.18 282.35 L239.58 282.36 L239.98 282.36 L240.38 282.37 L240.78 282.37 L241.18 282.38 L241.58 282.38 L241.98 282.38 L242.38 282.39 L242.78 282.39 L243.18 282.39 L243.58 282.39 L243.98 282.39 L244.38 282.39 L244.78 282.39 L245.18 282.38 L245.58 282.38 L245.98 282.37 L246.38 282.37 L246.78 282.36 L247.18 282.35 L247.58 282.34 L247.98 282.32 L248.38 282.3 L248.78 282.28 L249.18 282.26 L249.58 282.23 L249.98 282.21 L250.38 282.17 L250.78 282.14 L251.18 282.1 L251.58 282.06 L251.98 282.01 L252.38 281.97 L252.78 281.92 L253.18 281.86 L253.58 281.81 L253.98 281.75 L254.38 281.69 L254.78 281.63 L255.18 281.57 L255.58 281.5 L255.98 281.44 L256.38 281.38 L256.78 281.33 L257.18 281.27 L257.58 281.22 L257.98 281.18 L258.38 281.14 L258.78 281.1 L259.18 281.07 L259.58 281.05 L259.98 281.03 L260.38 281.02 L260.78 281.02 L261.18 281.03 L261.58 281.04 L261.98 281.06 L262.38 281.08 L262.78 281.12 L263.18 281.15 L263.58 281.2 L263.98 281.25 L264.38 281.3 L264.78 281.35 L265.18 281.41 L265.58 281.47 L265.98 281.53 L266.38 281.6 L266.78 281.66 L267.18 281.72 L267.58 281.78 L267.98 281.84 L268.38 281.89 L268.78 281.95 L269.18 282 L269.58 282.04 L269.98 282.09 L270.38 282.13 L270.78 282.17 L271.18 282.2 L271.58 282.23 L271.98 282.26 L272.38 282.29 L272.78 282.31 L273.18 282.33 L273.58 282.35 L273.98 282.36 L274.38 282.38 L274.78 282.39 L275.18 282.4 L275.58 282.41 L275.98 282.42 L276.38 282.42 L276.78 282.43 L277.18 282.43 L277.58 282.43 L277.98 282.44 L278.38 282.44 L278.78 282.44 L279.18 282.44 L279.58 282.45 L279.98 282.45 L280.38 282.45 L280.78 282.45 L281.18 282.45 L281.58 282.45 L281.98 282.45 L282.38 282.45 L282.78 282.45 L283.18 282.45 L283.58 282.45 L283.98 282.45 L284.38 282.45 L284.78 282.45 L285.18 282.45 L285.58 282.45 L285.98 282.45 L286.38 282.45 L286.78 282.45 L287.18 282.45 L287.58 282.45 L287.98 282.45 L288.38 282.45 L288.78 282.45 L289.18 282.45 L289.58 282.45 L289.98 282.45 L290.38 282.45 L290.78 282.45 L291.18 282.45 L291.58 282.45 L291.98 282.45 L292.38 282.45 L292.78 282.45 L293.18 282.45 L293.58 282.45 L293.98 282.45 L294.38 282.45 L294.78 282.45 L295.18 282.45 L295.58 282.45 L295.98 282.45 L296.38 282.45 L296.78 282.45 L297.18 282.45 L297.58 282.45 L297.98 282.45 L298.38 282.45 L298.78 282.45 L299.18 282.45 L299.58 282.45 L299.98 282.45 L300.38 282.45 L300.78 282.45 L301.18 282.45 L301.58 282.45 L301.98 282.45 L302.38 282.45 L302.78 282.45 L303.18 282.45 L303.58 282.45 L303.98 282.45 L304.38 282.45 L304.78 282.45 L305.18 282.45 L305.58 282.45 L305.98 282.45 L306.38 282.45 L306.78 282.45 L307.18 282.45 L307.58 282.45 L307.98 282.45 L308.38 282.45 L308.78 282.45 L309.18 282.45 L309.58 282.45 L309.98 282.45 L310.38 282.45 L310.78 282.45 L311.18 282.45 L311.58 282.45 L311.98 282.45 L312.38 282.45 L312.78 282.45 L313.18 282.45 L313.58 282.45 L313.98 282.45 L314.38 282.45 L314.78 282.45 L315.18 282.45 L315.58 282.45 L315.98 282.45 L316.38 282.45 L316.78 282.45 L317.18 282.45 L317.58 282.45 L317.98 282.45 L318.38 282.45 L318.78 282.45 L319.18 282.45 L319.58 282.45 L319.98 282.45 L320.38 282.45 L320.78 282.45 L321.18 282.45 L321.58 282.45 L321.98 282.45 L322.38 282.45 L322.78 282.45 L323.18 282.45 L323.58 282.45 L323.98 282.45 L324.3 282.45" class="cv"/>
<text x="217.3" y="208.8" class="tt">desAB-NDSK:Fg+GPRP</text>
<text transform="translate(236.4 300.9) scale(0.96 1)" class="at">Rupture forces, pN</text>
<text transform="translate(183.9 228.35) rotate(-90) scale(1.0 1)" text-anchor="middle" class="at">Probability, %</text>
<text x="176.8" y="170.4" class="lt">E</text>
<rect x="392.2" y="249.45" width="6.8" height="33" class="bar"/>
<rect x="400.2" y="274.55" width="6.8" height="7.9" class="bar"/>
<rect x="408.2" y="278.88" width="6.8" height="3.57" class="bar"/>
<rect x="416.2" y="279.39" width="6.8" height="3.06" class="bar"/>
<rect x="424.2" y="280.92" width="6.8" height="1.53" class="bar"/>
<rect x="432.2" y="281.94" width="6.8" height="0.51" class="bar"/>
<rect x="440.2" y="282.19" width="6.8" height="0.26" class="bar"/>
<rect x="448.2" y="282.19" width="6.8" height="0.26" class="bar"/>
<rect x="456.2" y="282.35" width="6.8" height="0.1" class="bar"/>
<rect x="464.2" y="282.35" width="6.8" height="0.1" class="bar"/>
<rect x="472.2" y="282.35" width="6.8" height="0.1" class="bar"/>
<rect x="480.2" y="282.35" width="6.8" height="0.1" class="bar"/>
<rect x="488.2" y="282.35" width="6.8" height="0.1" class="bar"/>
<rect x="496.2" y="282.35" width="6.8" height="0.1" class="bar"/>
<path d="M411.4 278.88V278.37M410.3 278.37h2.2" class="err"/>
<path d="M419.4 279.39V278.88M418.3 278.88h2.2" class="err"/>
<path d="M383.4 179.65V282.45H511.4" class="ax"/>
<path d="M381.5 282.45h1.9M381.5 256.75h1.9M381.5 231.05h1.9M381.5 205.35h1.9M381.5 179.65h1.9M383.4 282.45v1.9M391.4 282.45v1.9M399.4 282.45v1.9M407.4 282.45v1.9M415.4 282.45v1.9M423.4 282.45v1.9M431.4 282.45v1.9M439.4 282.45v1.9M447.4 282.45v1.9M455.4 282.45v1.9M463.4 282.45v1.9M471.4 282.45v1.9M479.4 282.45v1.9M487.4 282.45v1.9M495.4 282.45v1.9M503.4 282.45v1.9M511.4 282.45v1.9" class="ax"/>
<text transform="translate(380.5 285.35) scale(0.8 1)" class="tl" text-anchor="end">0</text>
<text transform="translate(380.5 259.65) scale(0.8 1)" class="tl" text-anchor="end">5</text>
<text transform="translate(380.5 233.95) scale(0.8 1)" class="tl" text-anchor="end">10</text>
<text transform="translate(380.5 208.25) scale(0.8 1)" class="tl" text-anchor="end">15</text>
<text transform="translate(380.5 182.55) scale(0.8 1)" class="tl" text-anchor="end">20</text>
<text transform="translate(383.4 291.45) scale(0.8 1)" class="tl" text-anchor="middle">0</text>
<text transform="translate(399.4 291.45) scale(0.8 1)" class="tl" text-anchor="middle">20</text>
<text transform="translate(415.4 291.45) scale(0.8 1)" class="tl" text-anchor="middle">40</text>
<text transform="translate(431.4 291.45) scale(0.8 1)" class="tl" text-anchor="middle">60</text>
<text transform="translate(447.4 291.45) scale(0.8 1)" class="tl" text-anchor="middle">80</text>
<text transform="translate(463.4 291.45) scale(0.8 1)" class="tl" text-anchor="middle">100</text>
<text transform="translate(479.4 291.45) scale(0.8 1)" class="tl" text-anchor="middle">120</text>
<text transform="translate(495.4 291.45) scale(0.8 1)" class="tl" text-anchor="middle">140</text>
<text transform="translate(511.4 291.45) scale(0.8 1)" class="tl" text-anchor="middle">160</text>
<path d="M394.68 248.84 L395.08 250.93 L395.48 252.88 L395.88 254.71 L396.28 256.42 L396.68 258.01 L397.08 259.51 L397.48 260.91 L397.88 262.22 L398.28 263.44 L398.68 264.59 L399.08 265.66 L399.48 266.66 L399.88 267.6 L400.28 268.48 L400.68 269.3 L401.08 270.07 L401.48 270.79 L401.88 271.46 L402.28 272.09 L402.68 272.68 L403.08 273.23 L403.48 273.75 L403.88 274.23 L404.28 274.69 L404.68 275.11 L405.08 275.51 L405.48 275.88 L405.88 276.23 L406.28 276.55 L406.68 276.86 L407.08 277.14 L407.48 277.41 L407.88 277.66 L408.28 277.89 L408.68 278.11 L409.08 278.32 L409.48 278.51 L409.88 278.69 L410.28 278.86 L410.68 279.02 L411.08 279.17 L411.48 279.31 L411.88 279.44 L412.28 279.56 L412.68 279.68 L413.08 279.79 L413.48 279.89 L413.88 279.98 L414.28 280.07 L414.68 280.16 L415.08 280.23 L415.48 280.31 L415.88 280.38 L416.28 280.44 L416.68 280.5 L417.08 280.56 L417.48 280.62 L417.88 280.67 L418.28 280.72 L418.68 280.76 L419.08 280.8 L419.48 280.85 L419.88 280.88 L420.28 280.92 L420.68 280.95 L421.08 280.99 L421.48 281.02 L421.88 281.04 L422.28 281.07 L422.68 281.1 L423.08 281.12 L423.48 281.14 L423.88 281.17 L424.28 281.19 L424.68 281.21 L425.08 281.22 L425.48 281.24 L425.88 281.26 L426.28 281.28 L426.68 281.29 L427.08 281.31 L427.48 281.32 L427.88 281.33 L428.28 281.35 L428.68 281.36 L429.08 281.37 L429.48 281.38 L429.88 281.39 L430.28 281.4 L430.68 281.41 L431.08 281.42 L431.48 281.43 L431.88 281.44 L432.28 281.45 L432.68 281.46 L433.08 281.47 L433.48 281.47 L433.88 281.48 L434.28 281.49 L434.68 281.5 L435.08 281.5 L435.48 281.51 L435.88 281.52 L436.28 281.52 L436.68 281.53 L437.08 281.53 L437.48 281.54 L437.88 281.55 L438.28 281.55 L438.68 281.56 L439.08 281.56 L439.48 281.57 L439.88 281.57 L440.28 281.58 L440.68 281.58 L441.08 281.59 L441.48 281.59 L441.88 281.6 L442.28 281.6 L442.68 281.61 L443.08 281.61 L443.48 281.62 L443.88 281.62 L444.28 281.63 L444.68 281.63 L445.08 281.64 L445.48 281.64 L445.88 281.64 L446.28 281.65 L446.68 281.65 L447.08 281.66 L447.48 281.66 L447.88 281.66 L448.28 281.67 L448.68 281.67 L449.08 281.68 L449.48 281.68 L449.88 281.68 L450.28 281.69 L450.68 281.69 L451.08 281.7 L451.48 281.7 L451.88 281.7 L452.28 281.71 L452.68 281.71 L453.08 281.71 L453.48 281.72 L453.88 281.72 L454.28 281.73 L454.68 281.73 L455.08 281.73 L455.48 281.74 L455.88 281.74 L456.28 281.74 L456.68 281.75 L457.08 281.75 L457.48 281.75 L457.88 281.76 L458.28 281.76 L458.68 281.76 L459.08 281.77 L459.48 281.77 L459.88 281.77 L460.28 281.78 L460.68 281.78 L461.08 281.78 L461.48 281.79 L461.88 281.79 L462.28 281.79 L462.68 281.8 L463.08 281.8 L463.48 281.8 L463.88 281.81 L464.28 281.81 L464.68 281.81 L465.08 281.81 L465.48 281.82 L465.88 281.82 L466.28 281.82 L466.68 281.83 L467.08 281.83 L467.48 281.83 L467.88 281.84 L468.28 281.84 L468.68 281.84 L469.08 281.84 L469.48 281.85 L469.88 281.85 L470.28 281.85 L470.68 281.86 L471.08 281.86 L471.48 281.86 L471.88 281.86 L472.28 281.87 L472.68 281.87 L473.08 281.87 L473.48 281.88 L473.88 281.88 L474.28 281.88 L474.68 281.88 L475.08 281.89 L475.48 281.89 L475.88 281.89 L476.28 281.89 L476.68 281.9 L477.08 281.9 L477.48 281.9 L477.88 281.91 L478.28 281.91 L478.68 281.91 L479.08 281.91 L479.48 281.92 L479.88 281.92 L480.28 281.92 L480.68 281.92 L481.08 281.93 L481.48 281.93 L481.88 281.93 L482.28 281.93 L482.68 281.94 L483.08 281.94 L483.48 281.94 L483.88 281.94 L484.28 281.95 L484.68 281.95 L485.08 281.95 L485.48 281.95 L485.88 281.95 L486.28 281.96 L486.68 281.96 L487.08 281.96 L487.48 281.96 L487.88 281.97 L488.28 281.97 L488.68 281.97 L489.08 281.97 L489.48 281.98 L489.88 281.98 L490.28 281.98 L490.68 281.98 L491.08 281.98 L491.48 281.99 L491.88 281.99 L492.28 281.99 L492.68 281.99 L493.08 282 L493.48 282 L493.88 282 L494.28 282 L494.68 282 L495.08 282.01 L495.48 282.01 L495.88 282.01 L496.28 282.01 L496.68 282.02 L497.08 282.02 L497.48 282.02 L497.88 282.02 L498.28 282.02 L498.68 282.03 L499.08 282.03 L499.48 282.03 L499.88 282.03 L500.28 282.03 L500.68 282.04 L501.08 282.04 L501.48 282.04 L501.88 282.04 L502.28 282.04 L502.68 282.05 L503.08 282.05 L503.48 282.05 L503.88 282.05 L504.28 282.05 L504.68 282.05 L505.08 282.06 L505.48 282.06 L505.88 282.06 L506.28 282.06 L506.68 282.06 L507.08 282.07 L507.4 282.07" class="cv"/>
<text x="398.75" y="208.75" class="tt">desAB-NDSK:fragment D+GPRP</text>
<text transform="translate(420.3 301.4) scale(0.96 1)" class="at">Rupture forces, pN</text>
<text transform="translate(367 228.35) rotate(-90) scale(1.0 1)" text-anchor="middle" class="at">Probability, %</text>
<text x="359.4" y="169.8" class="lt">H</text>
<rect x="32.6" y="402.43" width="6.8" height="42.02" class="bar"/>
<rect x="40.6" y="438.07" width="6.8" height="6.38" class="bar"/>
<rect x="48.6" y="440.47" width="6.8" height="3.98" class="bar"/>
<rect x="56.6" y="442.15" width="6.8" height="2.29" class="bar"/>
<rect x="64.6" y="441.39" width="6.8" height="3.06" class="bar"/>
<rect x="72.6" y="440.88" width="6.8" height="3.57" class="bar"/>
<rect x="80.6" y="434.76" width="6.8" height="9.69" class="bar"/>
<rect x="88.6" y="432.21" width="6.8" height="12.24" class="bar"/>
<rect x="96.6" y="427.37" width="6.8" height="17.09" class="bar"/>
<rect x="104.6" y="423.28" width="6.8" height="21.16" class="bar"/>
<rect x="112.6" y="417.42" width="6.8" height="27.03" class="bar"/>
<rect x="120.6" y="395.49" width="6.8" height="48.96" class="bar"/>
<rect x="128.6" y="419.46" width="6.8" height="24.99" class="bar"/>
<rect x="136.6" y="436.44" width="6.8" height="8.01" class="bar"/>
<rect x="144.6" y="440.17" width="6.8" height="4.28" class="bar"/>
<path d="M35.8 402.43V380.19M34.7 380.19h2.2" class="err"/>
<path d="M43.8 438.07V432.21M42.7 432.21h2.2" class="err"/>
<path d="M51.8 440.47V436.44M50.7 436.44h2.2" class="err"/>
<path d="M59.8 442.15V440.37M58.7 440.37h2.2" class="err"/>
<path d="M67.8 441.39V438.48M66.7 438.48h2.2" class="err"/>
<path d="M75.8 440.88V437.92M74.7 437.92h2.2" class="err"/>
<path d="M83.8 434.76V429.71M82.7 429.71h2.2" class="err"/>
<path d="M91.8 432.21V427.11M90.7 427.11h2.2" class="err"/>
<path d="M99.8 427.37V421.5M98.7 421.5h2.2" class="err"/>
<path d="M107.8 423.28V416.4M106.7 416.4h2.2" class="err"/>
<path d="M115.8 417.42V410.94M114.7 410.94h2.2" class="err"/>
<path d="M123.8 395.49V383.25M122.7 383.25h2.2" class="err"/>
<path d="M131.8 419.46V411.3M130.7 411.3h2.2" class="err"/>
<path d="M139.8 436.44V431.19M138.7 431.19h2.2" class="err"/>
<path d="M147.8 440.17V438.53M146.7 438.53h2.2" class="err"/>
<path d="M23.8 341.65V444.45H151.8" class="ax"/>
<path d="M21.9 444.45h1.9M21.9 418.75h1.9M21.9 393.05h1.9M21.9 367.35h1.9M21.9 341.65h1.9M23.8 444.45v1.9M31.8 444.45v1.9M39.8 444.45v1.9M47.8 444.45v1.9M55.8 444.45v1.9M63.8 444.45v1.9M71.8 444.45v1.9M79.8 444.45v1.9M87.8 444.45v1.9M95.8 444.45v1.9M103.8 444.45v1.9M111.8 444.45v1.9M119.8 444.45v1.9M127.8 444.45v1.9M135.8 444.45v1.9M143.8 444.45v1.9M151.8 444.45v1.9" class="ax"/>
<text transform="translate(20.8 447.35) scale(0.8 1)" class="tl" text-anchor="end">0</text>
<text transform="translate(20.8 421.65) scale(0.8 1)" class="tl" text-anchor="end">5</text>
<text transform="translate(20.8 395.95) scale(0.8 1)" class="tl" text-anchor="end">10</text>
<text transform="translate(20.8 370.25) scale(0.8 1)" class="tl" text-anchor="end">15</text>
<text transform="translate(20.8 344.55) scale(0.8 1)" class="tl" text-anchor="end">20</text>
<text transform="translate(23.8 453.45) scale(0.8 1)" class="tl" text-anchor="middle">0</text>
<text transform="translate(39.8 453.45) scale(0.8 1)" class="tl" text-anchor="middle">20</text>
<text transform="translate(55.8 453.45) scale(0.8 1)" class="tl" text-anchor="middle">40</text>
<text transform="translate(71.8 453.45) scale(0.8 1)" class="tl" text-anchor="middle">60</text>
<text transform="translate(87.8 453.45) scale(0.8 1)" class="tl" text-anchor="middle">80</text>
<text transform="translate(103.8 453.45) scale(0.8 1)" class="tl" text-anchor="middle">100</text>
<text transform="translate(119.8 453.45) scale(0.8 1)" class="tl" text-anchor="middle">120</text>
<text transform="translate(135.8 453.45) scale(0.8 1)" class="tl" text-anchor="middle">140</text>
<text transform="translate(151.8 453.45) scale(0.8 1)" class="tl" text-anchor="middle">160</text>
<path d="M35.72 402.29 L36.12 405.54 L36.52 408.53 L36.92 411.3 L37.32 413.85 L37.72 416.2 L38.12 418.37 L38.52 420.37 L38.92 422.21 L39.32 423.91 L39.72 425.48 L40.12 426.93 L40.52 428.27 L40.92 429.5 L41.32 430.63 L41.72 431.68 L42.12 432.64 L42.52 433.53 L42.92 434.35 L43.32 435.11 L43.72 435.81 L44.12 436.45 L44.52 437.04 L44.92 437.59 L45.32 438.09 L45.72 438.55 L46.12 438.98 L46.52 439.37 L46.92 439.73 L47.32 440.06 L47.72 440.36 L48.12 440.64 L48.52 440.9 L48.92 441.14 L49.32 441.35 L49.72 441.55 L50.12 441.73 L50.52 441.9 L50.92 442.05 L51.32 442.19 L51.72 442.32 L52.12 442.44 L52.52 442.54 L52.92 442.64 L53.32 442.72 L53.72 442.8 L54.12 442.87 L54.52 442.94 L54.92 442.99 L55.32 443.04 L55.72 443.09 L56.12 443.13 L56.52 443.16 L56.92 443.19 L57.32 443.22 L57.72 443.24 L58.12 443.25 L58.52 443.27 L58.92 443.28 L59.32 443.28 L59.72 443.29 L60.12 443.29 L60.52 443.28 L60.92 443.28 L61.32 443.27 L61.72 443.26 L62.12 443.25 L62.52 443.24 L62.92 443.22 L63.32 443.2 L63.72 443.18 L64.12 443.16 L64.52 443.13 L64.92 443.1 L65.32 443.08 L65.72 443.05 L66.12 443.01 L66.52 442.98 L66.92 442.94 L67.32 442.91 L67.72 442.87 L68.12 442.83 L68.52 442.78 L68.92 442.74 L69.32 442.69 L69.72 442.64 L70.12 442.59 L70.52 442.54 L70.92 442.49 L71.32 442.43 L71.72 442.37 L72.12 442.31 L72.52 442.25 L72.92 442.19 L73.32 442.12 L73.72 442.05 L74.12 441.98 L74.52 441.91 L74.92 441.83 L75.32 441.76 L75.72 441.68 L76.12 441.6 L76.52 441.51 L76.92 441.42 L77.32 441.33 L77.72 441.24 L78.12 441.15 L78.52 441.05 L78.92 440.95 L79.32 440.84 L79.72 440.73 L80.12 440.62 L80.52 440.51 L80.92 440.39 L81.32 440.27 L81.72 440.15 L82.12 440.02 L82.52 439.89 L82.92 439.76 L83.32 439.62 L83.72 439.48 L84.12 439.33 L84.52 439.18 L84.92 439.02 L85.32 438.87 L85.72 438.7 L86.12 438.53 L86.52 438.36 L86.92 438.19 L87.32 438 L87.72 437.82 L88.12 437.63 L88.52 437.43 L88.92 437.23 L89.32 437.02 L89.72 436.81 L90.12 436.59 L90.52 436.36 L90.92 436.13 L91.32 435.9 L91.72 435.66 L92.12 435.41 L92.52 435.16 L92.92 434.9 L93.32 434.63 L93.72 434.36 L94.12 434.08 L94.52 433.79 L94.92 433.5 L95.32 433.2 L95.72 432.89 L96.12 432.58 L96.52 432.26 L96.92 431.93 L97.32 431.59 L97.72 431.25 L98.12 430.9 L98.52 430.54 L98.92 430.18 L99.32 429.81 L99.72 429.43 L100.12 429.04 L100.52 428.64 L100.92 428.24 L101.32 427.83 L101.72 427.41 L102.12 426.99 L102.52 426.56 L102.92 426.12 L103.32 425.67 L103.72 425.22 L104.12 424.76 L104.52 424.29 L104.92 423.82 L105.32 423.34 L105.72 422.86 L106.12 422.36 L106.52 421.87 L106.92 421.37 L107.32 420.86 L107.72 420.35 L108.12 419.83 L108.52 419.31 L108.92 418.79 L109.32 418.26 L109.72 417.74 L110.12 417.21 L110.52 416.68 L110.92 416.15 L111.32 415.62 L111.72 415.09 L112.12 414.56 L112.52 414.03 L112.92 413.51 L113.32 412.99 L113.72 412.48 L114.12 411.97 L114.52 411.48 L114.92 410.98 L115.32 410.5 L115.72 410.03 L116.12 409.57 L116.52 409.12 L116.92 408.69 L117.32 408.27 L117.72 407.87 L118.12 407.49 L118.52 407.13 L118.92 406.78 L119.32 406.46 L119.72 406.16 L120.12 405.89 L120.52 405.65 L120.92 405.43 L121.32 405.24 L121.72 405.08 L122.12 404.95 L122.52 404.86 L122.92 404.8 L123.32 404.77 L123.72 404.79 L124.12 404.84 L124.52 404.93 L124.92 405.07 L125.32 405.25 L125.72 405.47 L126.12 405.73 L126.52 406.05 L126.92 406.4 L127.32 406.8 L127.72 407.25 L128.12 407.74 L128.52 408.28 L128.92 408.86 L129.32 409.48 L129.72 410.14 L130.12 410.85 L130.52 411.6 L130.92 412.38 L131.32 413.2 L131.72 414.06 L132.12 414.95 L132.52 415.86 L132.92 416.81 L133.32 417.77 L133.72 418.76 L134.12 419.77 L134.52 420.79 L134.92 421.82 L135.32 422.86 L135.72 423.9 L136.12 424.94 L136.52 425.97 L136.92 427 L137.32 428.02 L137.72 429.03 L138.12 430.01 L138.52 430.98 L138.92 431.92 L139.32 432.83 L139.72 433.71 L140.12 434.56 L140.52 435.38 L140.92 436.16 L141.32 436.9 L141.72 437.6 L142.12 438.26 L142.52 438.89 L142.92 439.47 L143.32 440.01 L143.72 440.51 L144.12 440.97 L144.52 441.39 L144.92 441.77 L145.32 442.12 L145.72 442.44 L146.12 442.72 L146.52 442.97 L146.92 443.19 L147.32 443.39 L147.72 443.56 L147.8 443.59" class="cv"/>
<text x="36.2" y="364.2" class="tt">desAB-fibrin:Fg+GHRP</text>
<text transform="translate(61.2 466.2) scale(0.96 1)" class="at">Rupture forces, pN</text>
<text transform="translate(7.4 390.35) rotate(-90) scale(1.0 1)" text-anchor="middle" class="at">Probability, %</text>
<text x="0.6" y="332.1" class="lt">C</text>
<rect x="208.8" y="408.49" width="6.8" height="36.01" class="bar"/>
<rect x="216.8" y="433.38" width="6.8" height="11.12" class="bar"/>
<rect x="224.8" y="437" width="6.8" height="7.5" class="bar"/>
<rect x="232.8" y="440.22" width="6.8" height="4.28" class="bar"/>
<rect x="240.8" y="438.89" width="6.8" height="5.61" class="bar"/>
<rect x="248.8" y="439.4" width="6.8" height="5.1" class="bar"/>
<rect x="256.8" y="440.22" width="6.8" height="4.28" class="bar"/>
<rect x="264.8" y="438.12" width="6.8" height="6.38" class="bar"/>
<rect x="272.8" y="429.4" width="6.8" height="15.1" class="bar"/>
<rect x="280.8" y="422.57" width="6.8" height="21.93" class="bar"/>
<rect x="288.8" y="407.52" width="6.8" height="36.97" class="bar"/>
<rect x="296.8" y="392.99" width="6.8" height="51.51" class="bar"/>
<rect x="304.8" y="417.47" width="6.8" height="27.03" class="bar"/>
<rect x="312.8" y="439.76" width="6.8" height="4.74" class="bar"/>
<path d="M212 408.49V389.93M210.9 389.93h2.2" class="err"/>
<path d="M220 433.38V425.32M218.9 425.32h2.2" class="err"/>
<path d="M228 437V433.79M226.9 433.79h2.2" class="err"/>
<path d="M236 440.22V435.32M234.9 435.32h2.2" class="err"/>
<path d="M244 438.89V434.3M242.9 434.3h2.2" class="err"/>
<path d="M252 439.4V432.77M250.9 432.77h2.2" class="err"/>
<path d="M260 440.22V436.34M258.9 436.34h2.2" class="err"/>
<path d="M268 438.12V431.75M266.9 431.75h2.2" class="err"/>
<path d="M276 429.4V420.27M274.9 420.27h2.2" class="err"/>
<path d="M284 422.57V414.92M282.9 414.92h2.2" class="err"/>
<path d="M292 407.52V399.11M290.9 399.11h2.2" class="err"/>
<path d="M300 392.99V383.1M298.9 383.1h2.2" class="err"/>
<path d="M308 417.47V410.48M306.9 410.48h2.2" class="err"/>
<path d="M316 439.76V437.36M314.9 437.36h2.2" class="err"/>
<path d="M200 341.7V444.5H328" class="ax"/>
<path d="M198.1 444.5h1.9M198.1 418.8h1.9M198.1 393.1h1.9M198.1 367.4h1.9M198.1 341.7h1.9M200 444.5v1.9M208 444.5v1.9M216 444.5v1.9M224 444.5v1.9M232 444.5v1.9M240 444.5v1.9M248 444.5v1.9M256 444.5v1.9M264 444.5v1.9M272 444.5v1.9M280 444.5v1.9M288 444.5v1.9M296 444.5v1.9M304 444.5v1.9M312 444.5v1.9M320 444.5v1.9M328 444.5v1.9" class="ax"/>
<text transform="translate(197.2 447.4) scale(0.8 1)" class="tl" text-anchor="end">0</text>
<text transform="translate(197.2 421.7) scale(0.8 1)" class="tl" text-anchor="end">5</text>
<text transform="translate(197.2 396) scale(0.8 1)" class="tl" text-anchor="end">10</text>
<text transform="translate(197.2 370.3) scale(0.8 1)" class="tl" text-anchor="end">15</text>
<text transform="translate(197.2 344.6) scale(0.8 1)" class="tl" text-anchor="end">20</text>
<text transform="translate(200 453.5) scale(0.8 1)" class="tl" text-anchor="middle">0</text>
<text transform="translate(216 453.5) scale(0.8 1)" class="tl" text-anchor="middle">20</text>
<text transform="translate(232 453.5) scale(0.8 1)" class="tl" text-anchor="middle">40</text>
<text transform="translate(248 453.5) scale(0.8 1)" class="tl" text-anchor="middle">60</text>
<text transform="translate(264 453.5) scale(0.8 1)" class="tl" text-anchor="middle">80</text>
<text transform="translate(280 453.5) scale(0.8 1)" class="tl" text-anchor="middle">100</text>
<text transform="translate(296 453.5) scale(0.8 1)" class="tl" text-anchor="middle">120</text>
<text transform="translate(312 453.5) scale(0.8 1)" class="tl" text-anchor="middle">140</text>
<text transform="translate(328 453.5) scale(0.8 1)" class="tl" text-anchor="middle">160</text>
<path d="M211.68 408.72 L212.08 410.33 L212.48 411.87 L212.88 413.35 L213.28 414.75 L213.68 416.09 L214.08 417.37 L214.48 418.6 L214.88 419.76 L215.28 420.88 L215.68 421.94 L216.08 422.96 L216.48 423.93 L216.88 424.85 L217.28 425.74 L217.68 426.58 L218.08 427.39 L218.48 428.16 L218.88 428.89 L219.28 429.59 L219.68 430.26 L220.08 430.9 L220.48 431.51 L220.88 432.09 L221.28 432.64 L221.68 433.17 L222.08 433.68 L222.48 434.16 L222.88 434.62 L223.28 435.06 L223.68 435.48 L224.08 435.88 L224.48 436.26 L224.88 436.62 L225.28 436.97 L225.68 437.3 L226.08 437.62 L226.48 437.92 L226.88 438.2 L227.28 438.48 L227.68 438.74 L228.08 438.99 L228.48 439.22 L228.88 439.45 L229.28 439.66 L229.68 439.87 L230.08 440.06 L230.48 440.25 L230.88 440.43 L231.28 440.59 L231.68 440.75 L232.08 440.9 L232.48 441.05 L232.88 441.19 L233.28 441.32 L233.68 441.44 L234.08 441.56 L234.48 441.67 L234.88 441.77 L235.28 441.87 L235.68 441.97 L236.08 442.06 L236.48 442.14 L236.88 442.22 L237.28 442.29 L237.68 442.36 L238.08 442.43 L238.48 442.49 L238.88 442.55 L239.28 442.6 L239.68 442.65 L240.08 442.7 L240.48 442.74 L240.88 442.78 L241.28 442.81 L241.68 442.85 L242.08 442.87 L242.48 442.9 L242.88 442.92 L243.28 442.94 L243.68 442.96 L244.08 442.98 L244.48 442.99 L244.88 443 L245.28 443 L245.68 443.01 L246.08 443.01 L246.48 443 L246.88 443 L247.28 442.99 L247.68 442.98 L248.08 442.97 L248.48 442.96 L248.88 442.94 L249.28 442.92 L249.68 442.9 L250.08 442.87 L250.48 442.84 L250.88 442.81 L251.28 442.78 L251.68 442.74 L252.08 442.71 L252.48 442.67 L252.88 442.62 L253.28 442.57 L253.68 442.52 L254.08 442.47 L254.48 442.41 L254.88 442.36 L255.28 442.29 L255.68 442.23 L256.08 442.16 L256.48 442.09 L256.88 442.01 L257.28 441.93 L257.68 441.85 L258.08 441.76 L258.48 441.67 L258.88 441.57 L259.28 441.47 L259.68 441.37 L260.08 441.26 L260.48 441.15 L260.88 441.03 L261.28 440.91 L261.68 440.78 L262.08 440.65 L262.48 440.51 L262.88 440.37 L263.28 440.22 L263.68 440.07 L264.08 439.91 L264.48 439.74 L264.88 439.57 L265.28 439.39 L265.68 439.21 L266.08 439.01 L266.48 438.81 L266.88 438.61 L267.28 438.39 L267.68 438.17 L268.08 437.94 L268.48 437.7 L268.88 437.45 L269.28 437.2 L269.68 436.93 L270.08 436.66 L270.48 436.38 L270.88 436.08 L271.28 435.78 L271.68 435.47 L272.08 435.14 L272.48 434.81 L272.88 434.46 L273.28 434.1 L273.68 433.74 L274.08 433.36 L274.48 432.96 L274.88 432.56 L275.28 432.14 L275.68 431.71 L276.08 431.27 L276.48 430.81 L276.88 430.34 L277.28 429.86 L277.68 429.36 L278.08 428.85 L278.48 428.33 L278.88 427.79 L279.28 427.24 L279.68 426.67 L280.08 426.09 L280.48 425.49 L280.88 424.88 L281.28 424.25 L281.68 423.61 L282.08 422.96 L282.48 422.29 L282.88 421.61 L283.28 420.91 L283.68 420.2 L284.08 419.48 L284.48 418.75 L284.88 418 L285.28 417.24 L285.68 416.48 L286.08 415.7 L286.48 414.92 L286.88 414.12 L287.28 413.32 L287.68 412.52 L288.08 411.71 L288.48 410.89 L288.88 410.08 L289.28 409.26 L289.68 408.45 L290.08 407.64 L290.48 406.84 L290.88 406.05 L291.28 405.26 L291.68 404.49 L292.08 403.73 L292.48 402.99 L292.88 402.27 L293.28 401.57 L293.68 400.9 L294.08 400.26 L294.48 399.65 L294.88 399.08 L295.28 398.55 L295.68 398.05 L296.08 397.61 L296.48 397.21 L296.88 396.87 L297.28 396.58 L297.68 396.35 L298.08 396.18 L298.48 396.08 L298.88 396.05 L299.28 396.08 L299.68 396.19 L300.08 396.36 L300.48 396.6 L300.88 396.92 L301.28 397.31 L301.68 397.77 L302.08 398.31 L302.48 398.93 L302.88 399.62 L303.28 400.39 L303.68 401.23 L304.08 402.14 L304.48 403.13 L304.88 404.18 L305.28 405.29 L305.68 406.47 L306.08 407.7 L306.48 408.99 L306.88 410.32 L307.28 411.69 L307.68 413.1 L308.08 414.54 L308.48 416 L308.88 417.48 L309.28 418.97 L309.68 420.46 L310.08 421.94 L310.48 423.41 L310.88 424.87 L311.28 426.29 L311.68 427.68 L312.08 429.04 L312.48 430.34 L312.88 431.6 L313.28 432.8 L313.68 433.95 L314.08 435.03 L314.48 436.04 L314.88 436.99 L315.28 437.87 L315.68 438.69 L316.08 439.43 L316.48 440.11 L316.88 440.72 L317.28 441.27 L317.68 441.76 L318.08 442.19 L318.48 442.57 L318.88 442.9 L319.28 443.19 L319.68 443.43 L320.08 443.64 L320.48 443.81 L320.88 443.95 L321.28 444.07 L321.68 444.17 L322.08 444.24 L322.48 444.31 L322.88 444.35 L323.28 444.39 L323.68 444.42 L324 444.44" class="cv"/>
<text x="217.3" y="363.7" class="tt">desAB-NDSK:Fg+GHRP</text>
<text transform="translate(237.1 465.8) scale(0.96 1)" class="at">Rupture forces, pN</text>
<text transform="translate(183.6 390.4) rotate(-90) scale(1.0 1)" text-anchor="middle" class="at">Probability, %</text>
<text x="177.3" y="331.1" class="lt">F</text>
<rect x="393.2" y="413.88" width="6.8" height="31.42" class="bar"/>
<rect x="401.2" y="439.38" width="6.8" height="5.92" class="bar"/>
<rect x="409.2" y="440.2" width="6.8" height="5.1" class="bar"/>
<rect x="417.2" y="440.2" width="6.8" height="5.1" class="bar"/>
<rect x="425.2" y="439.69" width="6.8" height="5.61" class="bar"/>
<rect x="433.2" y="436.48" width="6.8" height="8.82" class="bar"/>
<rect x="441.2" y="438.62" width="6.8" height="6.68" class="bar"/>
<rect x="449.2" y="437.29" width="6.8" height="8.01" class="bar"/>
<rect x="457.2" y="431.33" width="6.8" height="13.97" class="bar"/>
<rect x="465.2" y="426.48" width="6.8" height="18.82" class="bar"/>
<rect x="473.2" y="405.42" width="6.8" height="39.88" class="bar"/>
<rect x="481.2" y="395.12" width="6.8" height="50.18" class="bar"/>
<rect x="489.2" y="431.68" width="6.8" height="13.62" class="bar"/>
<rect x="497.2" y="440.51" width="6.8" height="4.79" class="bar"/>
<path d="M396.4 413.88V398.38M395.3 398.38h2.2" class="err"/>
<path d="M404.4 439.38V437.29M403.3 437.29h2.2" class="err"/>
<path d="M412.4 440.2V435.41M411.3 435.41h2.2" class="err"/>
<path d="M420.4 440.2V437.14M419.3 437.14h2.2" class="err"/>
<path d="M428.4 439.69V437.14M427.3 437.14h2.2" class="err"/>
<path d="M436.4 436.48V431.22M435.3 431.22h2.2" class="err"/>
<path d="M444.4 438.62V435.41M443.3 435.41h2.2" class="err"/>
<path d="M452.4 437.29V432.19M451.3 432.19h2.2" class="err"/>
<path d="M460.4 431.33V424.9M459.3 424.9h2.2" class="err"/>
<path d="M468.4 426.48V419.8M467.3 419.8h2.2" class="err"/>
<path d="M476.4 405.42V394.61M475.3 394.61h2.2" class="err"/>
<path d="M484.4 395.12V384.61M483.3 384.61h2.2" class="err"/>
<path d="M492.4 431.68V422.71M491.3 422.71h2.2" class="err"/>
<path d="M500.4 440.51V437.8M499.3 437.8h2.2" class="err"/>
<path d="M384.4 342.5V445.3H512.4" class="ax"/>
<path d="M382.5 445.3h1.9M382.5 419.6h1.9M382.5 393.9h1.9M382.5 368.2h1.9M382.5 342.5h1.9M384.4 445.3v1.9M392.4 445.3v1.9M400.4 445.3v1.9M408.4 445.3v1.9M416.4 445.3v1.9M424.4 445.3v1.9M432.4 445.3v1.9M440.4 445.3v1.9M448.4 445.3v1.9M456.4 445.3v1.9M464.4 445.3v1.9M472.4 445.3v1.9M480.4 445.3v1.9M488.4 445.3v1.9M496.4 445.3v1.9M504.4 445.3v1.9M512.4 445.3v1.9" class="ax"/>
<text transform="translate(381.2 448.2) scale(0.8 1)" class="tl" text-anchor="end">0</text>
<text transform="translate(381.2 422.5) scale(0.8 1)" class="tl" text-anchor="end">5</text>
<text transform="translate(381.2 396.8) scale(0.8 1)" class="tl" text-anchor="end">10</text>
<text transform="translate(381.2 371.1) scale(0.8 1)" class="tl" text-anchor="end">15</text>
<text transform="translate(381.2 345.4) scale(0.8 1)" class="tl" text-anchor="end">20</text>
<text transform="translate(384.4 454.3) scale(0.8 1)" class="tl" text-anchor="middle">0</text>
<text transform="translate(400.4 454.3) scale(0.8 1)" class="tl" text-anchor="middle">20</text>
<text transform="translate(416.4 454.3) scale(0.8 1)" class="tl" text-anchor="middle">40</text>
<text transform="translate(432.4 454.3) scale(0.8 1)" class="tl" text-anchor="middle">60</text>
<text transform="translate(448.4 454.3) scale(0.8 1)" class="tl" text-anchor="middle">80</text>
<text transform="translate(464.4 454.3) scale(0.8 1)" class="tl" text-anchor="middle">100</text>
<text transform="translate(480.4 454.3) scale(0.8 1)" class="tl" text-anchor="middle">120</text>
<text transform="translate(496.4 454.3) scale(0.8 1)" class="tl" text-anchor="middle">140</text>
<text transform="translate(512.4 454.3) scale(0.8 1)" class="tl" text-anchor="middle">160</text>
<path d="M396.2 413.67 L396.6 421.94 L397 428.04 L397.4 432.55 L397.8 435.88 L398.2 438.34 L398.6 440.16 L399 441.5 L399.4 442.49 L399.8 443.22 L400.2 443.76 L400.6 444.16 L401 444.46 L401.4 444.67 L401.8 444.83 L402.2 444.95 L402.6 445.04 L403 445.1 L403.4 445.15 L403.8 445.18 L404.2 445.21 L404.6 445.23 L405 445.24 L405.4 445.25 L405.8 445.26 L406.2 445.26 L406.6 445.27 L407 445.27 L407.4 445.27 L407.8 445.27 L408.2 445.27 L408.6 445.27 L409 445.27 L409.4 445.27 L409.8 445.27 L410.2 445.27 L410.6 445.26 L411 445.26 L411.4 445.26 L411.8 445.26 L412.2 445.26 L412.6 445.26 L413 445.25 L413.4 445.25 L413.8 445.25 L414.2 445.25 L414.6 445.24 L415 445.24 L415.4 445.24 L415.8 445.24 L416.2 445.23 L416.6 445.23 L417 445.23 L417.4 445.22 L417.8 445.22 L418.2 445.21 L418.6 445.21 L419 445.21 L419.4 445.2 L419.8 445.2 L420.2 445.19 L420.6 445.19 L421 445.18 L421.4 445.18 L421.8 445.17 L422.2 445.16 L422.6 445.16 L423 445.15 L423.4 445.14 L423.8 445.14 L424.2 445.13 L424.6 445.12 L425 445.11 L425.4 445.1 L425.8 445.09 L426.2 445.08 L426.6 445.07 L427 445.06 L427.4 445.05 L427.8 445.04 L428.2 445.03 L428.6 445.02 L429 445 L429.4 444.99 L429.8 444.97 L430.2 444.96 L430.6 444.94 L431 444.92 L431.4 444.91 L431.8 444.89 L432.2 444.87 L432.6 444.85 L433 444.83 L433.4 444.8 L433.8 444.78 L434.2 444.76 L434.6 444.73 L435 444.7 L435.4 444.68 L435.8 444.65 L436.2 444.62 L436.6 444.58 L437 444.55 L437.4 444.51 L437.8 444.48 L438.2 444.44 L438.6 444.4 L439 444.36 L439.4 444.31 L439.8 444.27 L440.2 444.22 L440.6 444.17 L441 444.11 L441.4 444.06 L441.8 444 L442.2 443.94 L442.6 443.87 L443 443.81 L443.4 443.74 L443.8 443.66 L444.2 443.59 L444.6 443.51 L445 443.42 L445.4 443.33 L445.8 443.24 L446.2 443.15 L446.6 443.05 L447 442.94 L447.4 442.83 L447.8 442.72 L448.2 442.6 L448.6 442.47 L449 442.34 L449.4 442.2 L449.8 442.06 L450.2 441.91 L450.6 441.75 L451 441.59 L451.4 441.42 L451.8 441.24 L452.2 441.06 L452.6 440.86 L453 440.66 L453.4 440.45 L453.8 440.23 L454.2 439.99 L454.6 439.75 L455 439.5 L455.4 439.24 L455.8 438.97 L456.2 438.68 L456.6 438.39 L457 438.08 L457.4 437.76 L457.8 437.42 L458.2 437.07 L458.6 436.71 L459 436.33 L459.4 435.94 L459.8 435.53 L460.2 435.1 L460.6 434.66 L461 434.2 L461.4 433.73 L461.8 433.23 L462.2 432.72 L462.6 432.19 L463 431.64 L463.4 431.07 L463.8 430.48 L464.2 429.87 L464.6 429.24 L465 428.59 L465.4 427.91 L465.8 427.22 L466.2 426.51 L466.6 425.77 L467 425.01 L467.4 424.23 L467.8 423.43 L468.2 422.61 L468.6 421.77 L469 420.91 L469.4 420.04 L469.8 419.14 L470.2 418.22 L470.6 417.3 L471 416.35 L471.4 415.39 L471.8 414.42 L472.2 413.45 L472.6 412.46 L473 411.47 L473.4 410.48 L473.8 409.48 L474.2 408.49 L474.6 407.51 L475 406.54 L475.4 405.58 L475.8 404.64 L476.2 403.73 L476.6 402.84 L477 401.98 L477.4 401.17 L477.8 400.39 L478.2 399.67 L478.6 399 L479 398.39 L479.4 397.85 L479.8 397.38 L480.2 396.99 L480.6 396.69 L481 396.48 L481.4 396.36 L481.8 396.35 L482.2 396.42 L482.6 396.6 L483 396.87 L483.4 397.24 L483.8 397.72 L484.2 398.29 L484.6 398.98 L485 399.77 L485.4 400.66 L485.8 401.65 L486.2 402.75 L486.6 403.94 L487 405.22 L487.4 406.59 L487.8 408.04 L488.2 409.56 L488.6 411.15 L489 412.79 L489.4 414.47 L489.8 416.2 L490.2 417.94 L490.6 419.7 L491 421.46 L491.4 423.21 L491.8 424.94 L492.2 426.64 L492.6 428.29 L493 429.88 L493.4 431.41 L493.8 432.88 L494.2 434.26 L494.6 435.55 L495 436.76 L495.4 437.88 L495.8 438.9 L496.2 439.82 L496.6 440.66 L497 441.4 L497.4 442.05 L497.8 442.62 L498.2 443.12 L498.6 443.54 L499 443.9 L499.4 444.19 L499.8 444.44 L500.2 444.64 L500.6 444.8 L501 444.92 L501.4 445.02 L501.8 445.1 L502.2 445.16 L502.6 445.2 L503 445.23 L503.4 445.25 L503.8 445.27 L504.2 445.28 L504.6 445.29 L505 445.29 L505.4 445.29 L505.8 445.3 L506.2 445.3 L506.6 445.3 L507 445.3 L507.4 445.3 L507.8 445.3 L508.2 445.3 L508.4 445.3" class="cv"/>
<text x="398.75" y="365" class="tt">desAB-NDSK:fragment D+GHRP</text>
<text transform="translate(420.8 466.2) scale(0.96 1)" class="at">Rupture forces, pN</text>
<text transform="translate(368 391.2) rotate(-90) scale(1.0 1)" text-anchor="middle" class="at">Probability, %</text>
<text x="360.1" y="332.7" class="lt">I</text>
</svg>
</body></html>
